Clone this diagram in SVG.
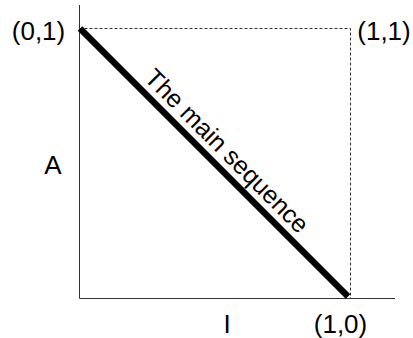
<svg xmlns="http://www.w3.org/2000/svg" width="413" height="338" viewBox="0 0 413 338">
<style>
.lbl{font-family:"Liberation Sans",Arial,sans-serif;font-size:26px;fill:#000;text-anchor:middle}
.seq{font-size:25px}
.axis{stroke:#333;stroke-width:1;fill:none}
.dash{stroke:#333;stroke-width:1;stroke-dasharray:3,2;fill:none}
</style>
<rect width="413" height="338" fill="#fff"/>
<g id="axes">
<line class="axis" x1="79.5" y1="5" x2="79.5" y2="298.5"/>
<line class="axis" x1="79.5" y1="298.5" x2="395" y2="298.5"/>
</g>
<g id="box">
<polyline class="dash" points="79.5,28.5 350.5,28.5 350.5,298.5"/>
</g>
<g id="main-sequence">
<line x1="80" y1="28.5" x2="348" y2="296.5" stroke="#000" stroke-width="6.5"/>
<text class="lbl seq" x="221" y="157" transform="rotate(45 221 157)">The main sequence</text>
</g>
<g id="labels">
<text class="lbl" x="38.5" y="39.5">(0,1)</text>
<text class="lbl" x="384" y="39.5">(1,1)</text>
<text class="lbl" x="53" y="173.5">A</text>
<text class="lbl" x="227" y="332.5">I</text>
<text class="lbl" x="340.5" y="332.5">(1,0)</text>
</g>
</svg>
